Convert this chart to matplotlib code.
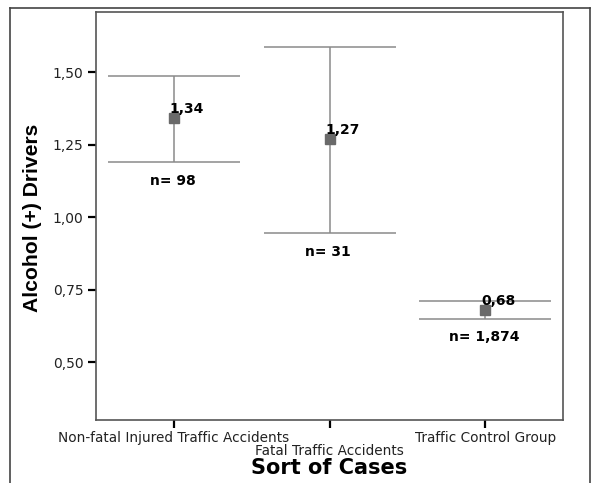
import matplotlib
matplotlib.use("Agg")
import matplotlib.pyplot as plt
from matplotlib.lines import Line2D
from matplotlib.transforms import ScaledTranslation
import numpy as np

categories = ["Non-fatal Injured Traffic Accidents", "Fatal Traffic Accidents", "Traffic Control Group"]
means = [1.34, 1.27, 0.68]
lower = [1.188, 0.945, 0.650]
upper = [1.486, 1.586, 0.709]
n_values = ["98", "31", "1,874"]
mean_labels = ["1,34", "1,27", "0,68"]
yticks = [0.50, 0.75, 1.00, 1.25, 1.50]
ytick_labels = ["0,50", "0,75", "1,00", "1,25", "1,50"]

fig = plt.figure(figsize=(5.92, 4.83), dpi=100)
ax = fig.add_axes([96/592, 1 - 420/483, (563-96)/592, (420-12)/483])

x = np.arange(1, len(categories) + 1)
means_a = np.array(means)
yerr = [means_a - np.array(lower), np.array(upper) - means_a]

ax.errorbar(x, means, yerr=yerr, fmt='none', ecolor='#8a8a8a', elinewidth=1.1,
            capsize=47.5, capthick=1.1, zorder=2)
ax.plot(x, means, linestyle='none', marker='s', markersize=6.5,
        color='#6a6a6a', markeredgecolor='#6a6a6a', zorder=3)

for xi, m, lab in zip(x, means, mean_labels):
    ax.annotate(lab, (xi, m), xytext=(-3, 6.5), textcoords='offset points',
                ha='left', va='center', fontsize=10, fontweight='bold',
                family='DejaVu Sans', color='black', zorder=4)
for xi, lo, nv in zip(x, lower, n_values):
    ax.annotate("n= " + nv, (xi, lo), xytext=(-1, -13.5), textcoords='offset points',
                ha='center', va='center', fontsize=10, fontweight='bold',
                family='DejaVu Sans', color='black')

ax.set_xlim(0.5, 3.5)
ax.set_ylim(0.30, 1.707)
ax.set_yticks(yticks)
ax.set_yticklabels(ytick_labels, fontsize=10, family='DejaVu Sans', color='#222222')
ax.set_xticks(x)
ax.set_xticklabels(categories, fontsize=9.8, family='DejaVu Sans', color='#222222')
ax.tick_params(axis='both', direction='out', length=6, width=1.6, color='black')
ax.tick_params(axis='y', pad=3)
ax.tick_params(axis='x', pad=2)

lbl = ax.get_xticklabels()[1]
lbl.set_transform(lbl.get_transform() + ScaledTranslation(0, -13/100, fig.dpi_scale_trans))

for sp in ax.spines.values():
    sp.set_color('#555555')
    sp.set_linewidth(1.2)

fig.text(329/592, 1 - 468/483, "Sort of Cases", fontsize=15, fontweight='bold',
         family='DejaVu Sans', ha='center', va='center')
fig.text(33/592, 1 - 218/483, "Alcohol (+) Drivers", fontsize=15.2, fontweight='bold',
         family='Liberation Sans', ha='center', va='center', rotation=90)

# outer frame (open at bottom)
fx0, fx1 = 10/592, 590/592
fy = 1 - 7.5/483
for xs, ys in [([fx0, fx0], [0, fy]), ([fx0, fx1], [fy, fy]), ([fx1, fx1], [fy, 0])]:
    fig.add_artist(Line2D(xs, ys, transform=fig.transFigure, color='#444444', linewidth=1.2))

fig.savefig("out.png", dpi=100)
